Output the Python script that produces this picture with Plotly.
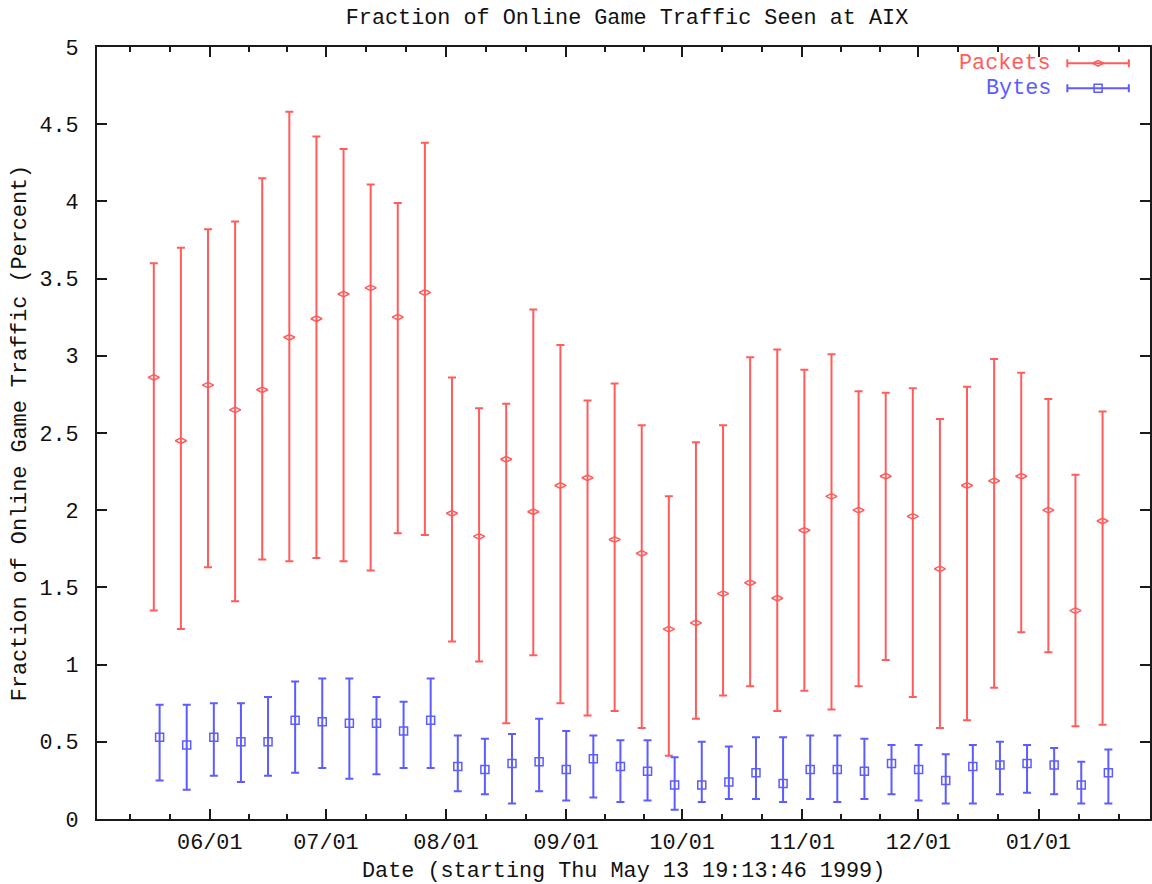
import pandas as pd
import plotly.graph_objects as go

# ---------------- data ----------------
packets_mid = [2.86, 2.45, 2.81, 2.65, 2.78, 3.12, 3.24, 3.40, 3.44, 3.25, 3.41,
               1.98, 1.83, 2.33, 1.99, 2.16, 2.21, 1.81, 1.72, 1.23, 1.27, 1.46,
               1.53, 1.43, 1.87, 2.09, 2.00, 2.22, 1.96, 1.62, 2.16, 2.19, 2.22,
               2.00, 1.35, 1.93]
packets_high = [3.60, 3.70, 3.82, 3.87, 4.15, 4.58, 4.42, 4.34, 4.11, 3.99, 4.38,
                2.86, 2.66, 2.69, 3.30, 3.07, 2.71, 2.82, 2.55, 2.09, 2.44, 2.55,
                2.99, 3.04, 2.91, 3.01, 2.77, 2.76, 2.79, 2.59, 2.80, 2.98, 2.89,
                2.72, 2.23, 2.64]
packets_low = [1.35, 1.23, 1.63, 1.41, 1.68, 1.67, 1.69, 1.67, 1.61, 1.85, 1.84,
               1.15, 1.02, 0.62, 1.06, 0.75, 0.67, 0.70, 0.59, 0.41, 0.65, 0.80,
               0.86, 0.70, 0.83, 0.71, 0.86, 1.03, 0.79, 0.59, 0.64, 0.85, 1.21,
               1.08, 0.60, 0.61]

bytes_mid = [0.53, 0.48, 0.53, 0.50, 0.50, 0.64, 0.63, 0.62, 0.62, 0.57, 0.64,
             0.34, 0.32, 0.36, 0.37, 0.32, 0.39, 0.34, 0.31, 0.22, 0.22, 0.24,
             0.30, 0.23, 0.32, 0.32, 0.31, 0.36, 0.32, 0.25, 0.34, 0.35, 0.36,
             0.35, 0.22, 0.30]
bytes_high = [0.74, 0.74, 0.75, 0.75, 0.79, 0.89, 0.91, 0.91, 0.79, 0.76, 0.91,
              0.54, 0.52, 0.55, 0.65, 0.57, 0.54, 0.51, 0.51, 0.40, 0.50, 0.47,
              0.53, 0.53, 0.54, 0.54, 0.52, 0.48, 0.48, 0.42, 0.48, 0.50, 0.48,
              0.46, 0.37, 0.45]
bytes_low = [0.25, 0.19, 0.28, 0.24, 0.28, 0.30, 0.33, 0.26, 0.29, 0.33, 0.33,
             0.18, 0.16, 0.10, 0.18, 0.12, 0.14, 0.11, 0.12, 0.06, 0.11, 0.13,
             0.13, 0.11, 0.13, 0.11, 0.13, 0.16, 0.12, 0.10, 0.10, 0.16, 0.17,
             0.16, 0.10, 0.10]

packets_dates = pd.date_range("1999-05-17 13:00", periods=len(packets_mid), freq="7D")
bytes_dates = pd.date_range("1999-05-19 01:00", periods=len(bytes_mid), freq="7D")

month_ticks = ["1999-06-01", "1999-07-01", "1999-08-01", "1999-09-01",
               "1999-10-01", "1999-11-01", "1999-12-01", "2000-01-01"]
month_labels = ["06/01", "07/01", "08/01", "09/01", "10/01", "11/01", "12/01", "01/01"]

y_ticks = [0, 0.5, 1, 1.5, 2, 2.5, 3, 3.5, 4, 4.5, 5]
y_labels = ["0", "0.5", "1", "1.5", "2", "2.5", "3", "3.5", "4", "4.5", "5"]

title_text = "Fraction of Online Game Traffic Seen at AIX"
x_title = "Date (starting Thu May 13 19:13:46 1999)"
y_title = "Fraction of Online Game Traffic (Percent)"
series_names = ["Packets", "Bytes"]

# ---------------- styling ----------------
RED = "#ff5c5c"
BLUE = "#5c5cff"
FONT = "Liberation Mono"
FS = 21.8
x_range = ["1999-05-02 21:00", "2000-01-29 19:00"]

# minor ticks at thirds of each month
month_starts = pd.date_range("1999-05-01", "2000-02-01", freq="MS")
minor_vals = []
for a, b in zip(month_starts[:-1], month_starts[1:]):
    for k in (1, 2):
        t = a + (b - a) * k / 3
        if pd.Timestamp(x_range[0]) < t < pd.Timestamp(x_range[1]):
            minor_vals.append(t)

fig = go.Figure()

fig.add_trace(go.Scatter(
    x=packets_dates, y=packets_mid, mode="markers", name=series_names[0],
    marker=dict(symbol="diamond-wide-open", size=8, color=RED, line=dict(width=1.5, color=RED)),
    error_y=dict(type="data", symmetric=False,
                 array=[h - m for h, m in zip(packets_high, packets_mid)],
                 arrayminus=[m - l for m, l in zip(packets_mid, packets_low)],
                 color=RED, thickness=2, width=4),
    showlegend=False,
))
fig.add_trace(go.Scatter(
    x=bytes_dates, y=bytes_mid, mode="markers", name=series_names[1],
    marker=dict(symbol="square-open", size=8, color=BLUE, line=dict(width=1.5, color=BLUE)),
    error_y=dict(type="data", symmetric=False,
                 array=[h - m for h, m in zip(bytes_high, bytes_mid)],
                 arrayminus=[m - l for m, l in zip(bytes_mid, bytes_low)],
                 color=BLUE, thickness=2, width=4),
    showlegend=False,
))

# gnuplot-style key (text on the left, error-bar sample on the right)
key_x = 0.9507
key_half = 0.0292
key_rows = [0.9789, 0.9465]
for name, yk, col, sym in zip(series_names, key_rows, [RED, BLUE],
                              ["diamond-wide-open", "square-open"]):
    fig.add_trace(go.Scatter(
        x=[key_x], y=[yk], xaxis="x2", yaxis="y2", mode="markers",
        marker=dict(symbol=sym, size=8, color=col, line=dict(width=1.5, color=col)),
        error_x=dict(type="constant", value=key_half, color=col, thickness=2, width=4),
        showlegend=False, hoverinfo="skip",
    ))
    fig.add_annotation(x=0.908, y=yk, xref="x2", yref="y2", text=name,
                       xanchor="right", yanchor="middle", showarrow=False,
                       font=dict(family=FONT, size=FS, color=col))

axis_common = dict(
    showgrid=False, zeroline=False, showline=True, linecolor="#1a1a1a", linewidth=2,
    mirror="allticks", ticks="inside", ticklen=10, tickwidth=2, tickcolor="#1a1a1a",
    tickfont=dict(family=FONT, size=FS, color="#111"),
)

fig.update_layout(
    width=1152, height=884,
    margin=dict(l=97, r=0, t=47, b=65),
    paper_bgcolor="white", plot_bgcolor="white",
    font=dict(family=FONT, size=FS, color="#111"),
    title=dict(text=title_text, x=627 / 1152, xref="container", xanchor="center",
               y=1 - 16 / 884, yref="container", yanchor="middle",
               font=dict(family=FONT, size=FS, color="#111")),
    xaxis=dict(type="date", range=x_range, tickvals=month_ticks, ticktext=month_labels,
               ticklabelstandoff=2,
               minor=dict(tickvals=minor_vals, ticks="inside", ticklen=5, tickwidth=2,
                          tickcolor="#1a1a1a"),
               **axis_common),
    yaxis=dict(range=[0, 5], tickvals=y_ticks, ticktext=y_labels, ticklabelstandoff=12,
               **axis_common),
    xaxis2=dict(overlaying="x", range=[0, 1], visible=False, anchor="y2"),
    yaxis2=dict(overlaying="y", range=[0, 1], visible=False, anchor="x2"),
)

fig.add_annotation(x=0.5, y=-0.0674, xref="paper", yref="paper", text=x_title,
                   showarrow=False, xanchor="center", yanchor="middle",
                   font=dict(family=FONT, size=FS, color="#111"))
fig.add_annotation(x=-0.073, y=0.5, xref="paper", yref="paper", text=y_title,
                   showarrow=False, textangle=-90, xanchor="center", yanchor="middle",
                   font=dict(family=FONT, size=FS, color="#111"))

fig.write_html("out.html")
